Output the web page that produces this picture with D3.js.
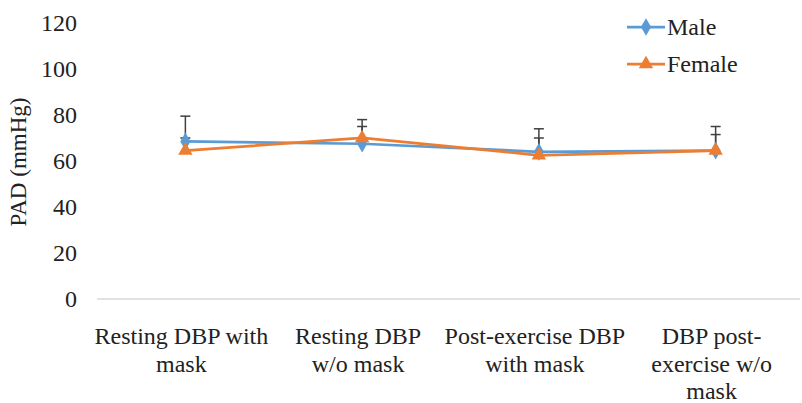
<!DOCTYPE html>
<html>
<head>
<meta charset="utf-8">
<script src="https://cdn.jsdelivr.net/npm/d3@7"></script>
<style>
  html, body { margin: 0; padding: 0; background: #fff; }
  svg { display: block; }
  svg text { font-family: "Liberation Serif", "Times New Roman", "DejaVu Serif", serif; }
</style>
</head>
<body>
<svg id="chart" width="802" height="403"></svg>
<script>
// Diastolic blood pressure by condition, mean with upper SD bar
const categories = [
  ["Resting DBP with", "mask"],
  ["Resting DBP", "w/o mask"],
  ["Post-exercise DBP", "with mask"],
  ["DBP post-", "exercise w/o", "mask"]
];
const maleValues = [68.5, 67.5, 64, 64.5];
const maleErrors = [11, 7.5, 10, 10.5];
const femaleValues = [64.5, 70, 62.5, 64.5];
const femaleErrors = [5.5, 8, 7.5, 7];
const yTicks = [0, 20, 40, 60, 80, 100, 120];
const seriesNames = ["Male", "Female"];

const svg = d3.select("#chart");
const fontSize = 24;
const serif = "Liberation Serif, Times New Roman, DejaVu Serif, serif";

const x = d3.scalePoint()
  .domain(d3.range(categories.length))
  .range([97, 804])
  .padding(0.5);

const y = d3.scaleLinear().domain([0, 120]).range([299, 23]);

// y tick labels (no axis line)
const yAxis = d3.axisLeft(y).tickValues(yTicks).tickSize(0).tickPadding(0);
const gy = svg.append("g").attr("transform", "translate(77,0)").call(yAxis);
gy.attr("font-family", serif);
gy.select(".domain").remove();
gy.selectAll("text")
  .attr("font-size", fontSize)
  .attr("fill", "#222");

// x axis baseline
svg.append("line")
  .attr("x1", 97).attr("x2", 800)
  .attr("y1", y(0)).attr("y2", y(0))
  .attr("stroke", "#d9d9d9").attr("stroke-width", 1.5);

// category labels, wrapped over several lines
const catG = svg.append("g");
categories.forEach((lines, i) => {
  const t = catG.append("text")
    .attr("text-anchor", "middle")
    .attr("font-size", fontSize)
    .attr("fill", "#222");
  lines.forEach((ln, j) => {
    t.append("tspan")
      .attr("x", x(i) - 4)
      .attr("y", 344 + j * 27.5)
      .text(ln);
  });
});

// y axis title
svg.append("text")
  .attr("transform", "translate(26,162) rotate(-90)")
  .attr("text-anchor", "middle")
  .attr("font-size", 23)
  .attr("fill", "#222")
  .text("PAD (mmHg)");

const series = [
  { name: seriesNames[0], values: maleValues, errors: maleErrors, color: "#5b9bd5", symbol: d3.symbolDiamond },
  { name: seriesNames[1], values: femaleValues, errors: femaleErrors, color: "#ed7d31", symbol: d3.symbolTriangle }
];

const line = d3.line().x((d, i) => x(i)).y(d => y(d));

// error bars (plus direction only)
series.forEach(s => {
  const g = svg.append("g");
  s.values.forEach((v, i) => {
    g.append("line")
      .attr("x1", x(i)).attr("x2", x(i))
      .attr("y1", y(v)).attr("y2", y(v + s.errors[i]))
      .attr("stroke", "#404040").attr("stroke-width", 1.5);
    g.append("line")
      .attr("x1", x(i) - 5).attr("x2", x(i) + 5)
      .attr("y1", y(v + s.errors[i])).attr("y2", y(v + s.errors[i]))
      .attr("stroke", "#404040").attr("stroke-width", 1.5);
  });
});

// series lines and markers
series.forEach(s => {
  svg.append("path")
    .datum(s.values)
    .attr("d", line)
    .attr("fill", "none")
    .attr("stroke", s.color)
    .attr("stroke-width", 2.75);
  svg.append("g").selectAll("path")
    .data(s.values)
    .join("path")
    .attr("transform", (d, i) => `translate(${x(i)},${y(d)})`)
    .attr("d", d3.symbol().type(s.symbol).size(90))
    .attr("fill", s.color);
});

// legend
const legend = svg.append("g");
series.forEach((s, k) => {
  const ly = 27 + k * 37;
  legend.append("line")
    .attr("x1", 627).attr("x2", 665)
    .attr("y1", ly).attr("y2", ly)
    .attr("stroke", s.color).attr("stroke-width", 2.75);
  legend.append("path")
    .attr("transform", `translate(646,${ly})`)
    .attr("d", d3.symbol().type(s.symbol).size(90))
    .attr("fill", s.color);
  legend.append("text")
    .attr("x", 667).attr("y", ly + 8)
    .attr("font-size", fontSize)
    .attr("fill", "#222")
    .text(s.name);
});
</script>
</body>
</html>
